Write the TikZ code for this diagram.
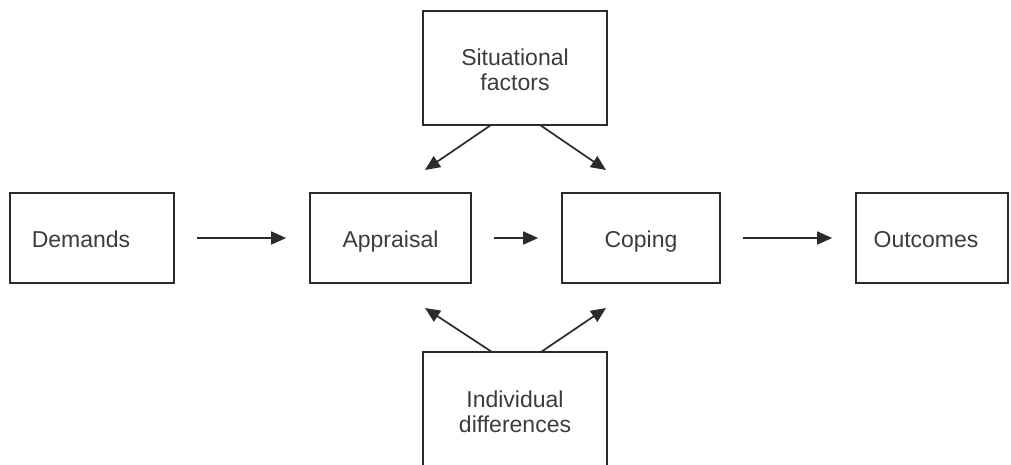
\documentclass[tikz,border=0pt]{standalone}
\usepackage{fontspec}
\setmainfont{Liberation Sans}
\usetikzlibrary{arrows.meta}
\definecolor{ink}{HTML}{2B2B2B}
\definecolor{txtc}{HTML}{3C3C3C}
\begin{document}
\begin{tikzpicture}[x=1pt,y=-1pt,
  box/.style={draw=ink,line width=1.7pt,rectangle,inner sep=0pt},
  lbl/.style={text=txtc,font=\fontsize{23}{25}\selectfont,align=center,inner sep=0pt},
  one/.style={lbl,anchor=base},
  arr/.style={draw=ink,line width=1.7pt,-{Triangle[length=15pt,width=13pt]}},
  harr/.style={arr,shorten <=22pt,shorten >=23pt}]
\clip (0,0) rectangle (1011,464);
\fill[white] (0,0) rectangle (1011,464);
% boxes
\node[box,minimum width=184pt,minimum height=114pt] (sit) at (515,68) {};
\node[box,minimum width=164pt,minimum height=90pt] (dem) at (92,238) {};
\node[box,minimum width=161pt,minimum height=90pt] (app) at (390.5,238) {};
\node[box,minimum width=158pt,minimum height=90pt] (cop) at (641,238) {};
\node[box,minimum width=152pt,minimum height=90pt] (out) at (932,238) {};
\node[box,minimum width=184pt,minimum height=150pt] (ind) at (515,427) {};
% labels
\node[lbl] (sitl) at (515,70) {Situational\\factors};
\node[one] (deml) at (81,247) {Demands};
\node[one] (appl) at (390.5,247) {Appraisal};
\node[one] (copl) at (641,247) {Coping};
\node[one] (outl) at (926,247) {Outcomes};
\node[lbl] (indl) at (515,412) {Individual\\differences};
% horizontal arrows
\draw[harr] (dem.east) -- (app.west);
\draw[harr] (app.east) -- (cop.west);
\draw[harr] (cop.east) -- (out.west);
% diagonal arrows
\coordinate (s1) at (491,125);
\coordinate (s2) at (540,125);
\coordinate (t1) at (425,170);
\coordinate (t2) at (606,170);
\coordinate (i1) at (492,352);
\coordinate (i2) at (541,352);
\coordinate (u1) at (425,308);
\coordinate (u2) at (606,308);
\draw[arr] (s1) -- (t1);
\draw[arr] (s2) -- (t2);
\draw[arr] (i1) -- (u1);
\draw[arr] (i2) -- (u2);
\end{tikzpicture}
\end{document}
